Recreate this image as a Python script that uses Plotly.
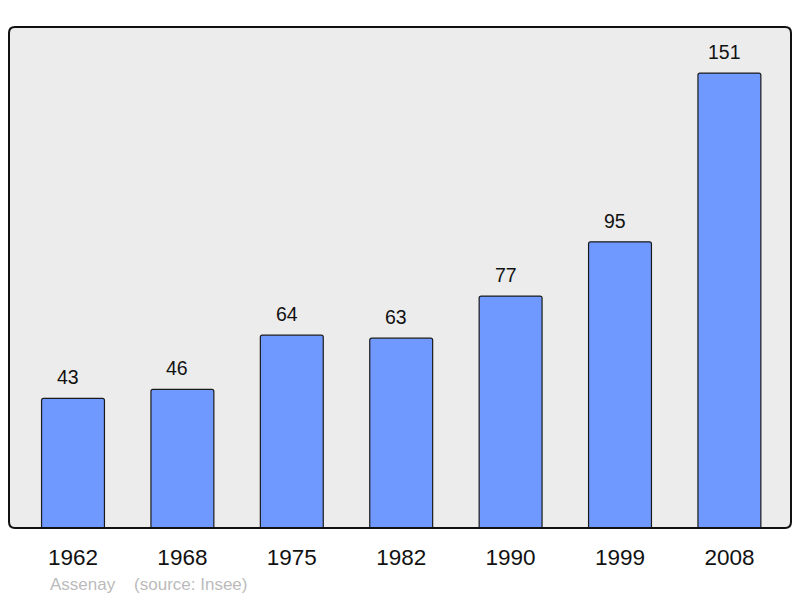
import plotly.graph_objects as go

years = ["1962", "1968", "1975", "1982", "1990", "1999", "2008"]
population = [43, 46, 64, 63, 77, 95, 151]
footer_name = "Assenay"
footer_source = "(source: Insee)"

FONT = "Liberation Sans, Arial, sans-serif"
W, H = 800, 598
ML, MR, MT, MB = 9, 9, 27, 70
PW, PH = W - ML - MR, H - MT - MB

fig = go.Figure()
fig.add_trace(go.Bar(
    x=years, y=population,
    width=0.575,
    marker=dict(color="#7099ff", line=dict(color="#1a1a1a", width=1.2), cornerradius=2),
    hoverinfo="skip",
))

for i, v in enumerate(population):
    fig.add_annotation(x=i, y=v, text=str(v), showarrow=False, yanchor="bottom",
                       yshift=8, xshift=-5, font=dict(family=FONT, size=19.5, color="#111111"))

fig.add_annotation(xref="paper", yref="paper", x=(48 - ML) / PW, y=-(584 - (MT + PH)) / PH,
                   xanchor="left", yanchor="middle", showarrow=False,
                   text=footer_name + "\u00a0\u00a0\u00a0\u00a0" + footer_source,
                   font=dict(family=FONT, size=17, color="#bbbbbb"))

# rounded frame (paper coords)
rx, ry = 6 / PW, 6 / PH
path = (f"M {rx} 0 L {1-rx} 0 Q 1 0 1 {ry} L 1 {1-ry} Q 1 1 {1-rx} 1 "
        f"L {rx} 1 Q 0 1 0 {1-ry} L 0 {ry} Q 0 0 {rx} 0 Z")
fig.add_shape(type="path", xref="paper", yref="paper", layer="above",
              path=path, line=dict(color="#111111", width=2))

fig.update_layout(
    width=W, height=H,
    margin=dict(l=ML, r=MR, t=MT, b=MB),
    paper_bgcolor="white", plot_bgcolor="#ececec",
    showlegend=False,
    xaxis=dict(type="category", range=[-0.585, 6.563], showgrid=False, zeroline=False,
               showline=False, ticks="", ticklabelstandoff=13,
               tickfont=dict(family=FONT, size=22.5, color="#111111"), fixedrange=True),
    yaxis=dict(range=[0, 166.3], showgrid=False, zeroline=False, showline=False,
               showticklabels=False, ticks="", fixedrange=True),
)

fig.write_html("out.html", config={"displayModeBar": False},
               post_script="document.body.style.margin='0';")
